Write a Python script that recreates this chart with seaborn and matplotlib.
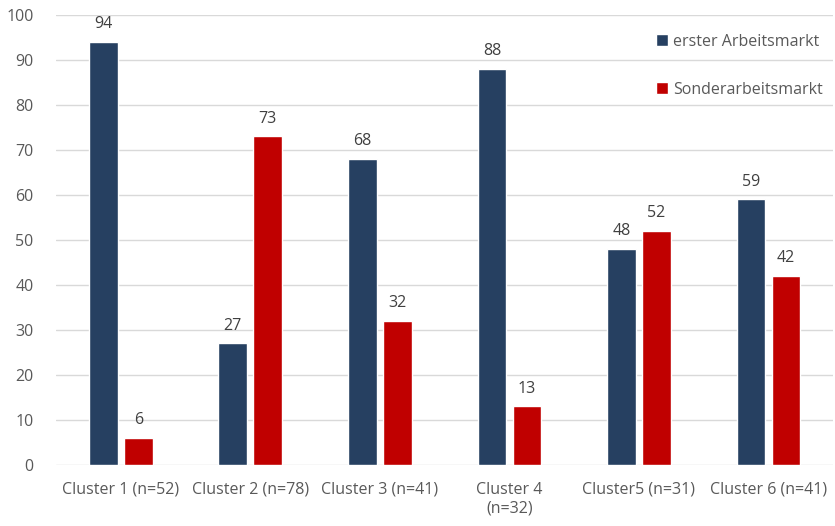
import matplotlib
matplotlib.use("Agg")
import matplotlib.pyplot as plt
import seaborn as sns
import pandas as pd

categories = ["Cluster 1 (n=52)", "Cluster 2 (n=78)", "Cluster 3 (n=41)",
              "Cluster 4\n(n=32)", "Cluster5 (n=31)", "Cluster 6 (n=41)"]
series_names = ["erster Arbeitsmarkt", "Sonderarbeitsmarkt"]
erster = [94, 27, 68, 88, 48, 59]
sonder = [6, 73, 32, 13, 52, 42]
colors = ["#264061", "#C00000"]

df = pd.DataFrame({
    "cat": categories * 2,
    "serie": [series_names[0]] * 6 + [series_names[1]] * 6,
    "val": erster + sonder,
})

sns.set_theme(style="white")
plt.rcParams["font.family"] = ["Open Sans", "DejaVu Sans"]
txt = "#595959"

fig = plt.figure(figsize=(8.35, 5.26), dpi=100)
ax = fig.add_axes([0.067, 0.116, 0.931, 0.8555])
sns.barplot(data=df, x="cat", y="val", hue="serie", palette=colors,
            order=categories, hue_order=series_names, width=0.54, gap=0.18,
            ax=ax, saturation=1, legend=True)

for cont in ax.containers:
    ax.bar_label(cont, labels=[f"{v:.0f}" for v in cont.datavalues],
                 padding=7, fontsize=11.5, color="#404040")

ax.set_ylim(0, 100)
ax.set_yticks(range(0, 101, 10))
ax.set_xlim(-0.5, 5.5)
ax.yaxis.grid(True, color="#d9d9d9", linewidth=1)
ax.set_axisbelow(True)
for s in ax.spines.values():
    s.set_visible(False)
ax.set_xlabel("")
ax.set_ylabel("")
ax.tick_params(axis="both", length=0, labelsize=11.5, colors=txt)
ax.tick_params(axis="x", pad=12)
ax.tick_params(axis="y", pad=16)

handles, labels = ax.get_legend_handles_labels()
leg = ax.legend(handles, labels, loc="upper right", bbox_to_anchor=(1.005, 0.99),
                frameon=False, fontsize=11.5, labelcolor=txt,
                handlelength=0.75, handleheight=0.75, handletextpad=0.3,
                labelspacing=2.0)

fig.savefig("out.png", dpi=100)
